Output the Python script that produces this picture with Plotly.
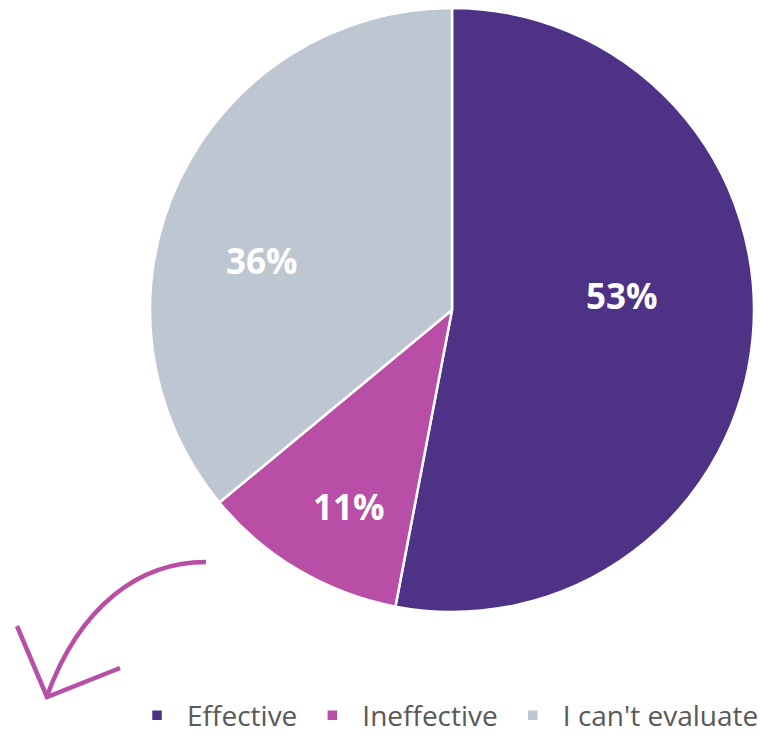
import re
import math
import plotly.graph_objects as go

labels = ["Effective", "Ineffective", "I can't evaluate"]
values = [53, 11, 36]
colors = ["#4E3286", "#B84EA6", "#BDC6D1"]
# label placement (style): radial fraction of pie radius and angular nudge in degrees
label_rfrac = [0.565, 0.735, 0.65]
label_dang = [-10.4, -3.0, -10.5]

W, H = 761, 734
cx, cy, r = 452, 310, 302

fig = go.Figure(go.Pie(
    labels=labels, values=values, sort=False, direction="clockwise", rotation=0,
    marker=dict(colors=colors, line=dict(color="white", width=2.5)),
    textinfo="none",
    domain=dict(x=[(cx - r) / W, (cx + r) / W], y=[1 - (cy + r) / H, 1 - (cy - r) / H]),
))

total = sum(values)
cum = 0
for v, f, da in zip(values, label_rfrac, label_dang):
    mid = (cum + v / 2) / total * 360 + da
    cum += v
    th = math.radians(mid)
    x = cx + f * r * math.sin(th)
    y = cy - f * r * math.cos(th)
    fig.add_annotation(x=x / W, y=1 - y / H, xref="paper", yref="paper",
                       xanchor="center", yanchor="middle",
                       text=f"<b>{round(v / total * 100)}%</b>", showarrow=False,
                       font=dict(family="Open Sans", size=35, color="white"))

def px_path(p):
    return re.sub(r"([\d.]+),([\d.]+)",
                  lambda m: f"{float(m.group(1)) / W:.5f},{1 - float(m.group(2)) / H:.5f}", p)

fig.add_shape(type="path", path=px_path("M 206,562 C 140,562 80,605 47,696"),
              xref="paper", yref="paper", line=dict(color="#B84EA6", width=4.5))
fig.add_shape(type="path", path=px_path("M 17,626 L 47,697 L 120,668"),
              xref="paper", yref="paper", line=dict(color="#B84EA6", width=4.5))

fig.update_layout(
    width=W, height=H, margin=dict(l=0, r=0, t=0, b=0, autoexpand=False),
    paper_bgcolor="white", plot_bgcolor="white",
    showlegend=True,
    legend=dict(orientation="h", x=1.004, xanchor="right", y=-0.009, yanchor="bottom",
                font=dict(family="Open Sans", size=28, color="#595959"),
                itemwidth=50, tracegroupgap=0, borderwidth=0),
)
fig.write_html("out.html", config={"displayModeBar": False})
with open("out.html", encoding="utf-8") as fh:
    html = fh.read()
html = html.replace("<body>", '<body style="margin:0;overflow:hidden">', 1)
with open("out.html", "w", encoding="utf-8") as fh:
    fh.write(html)
